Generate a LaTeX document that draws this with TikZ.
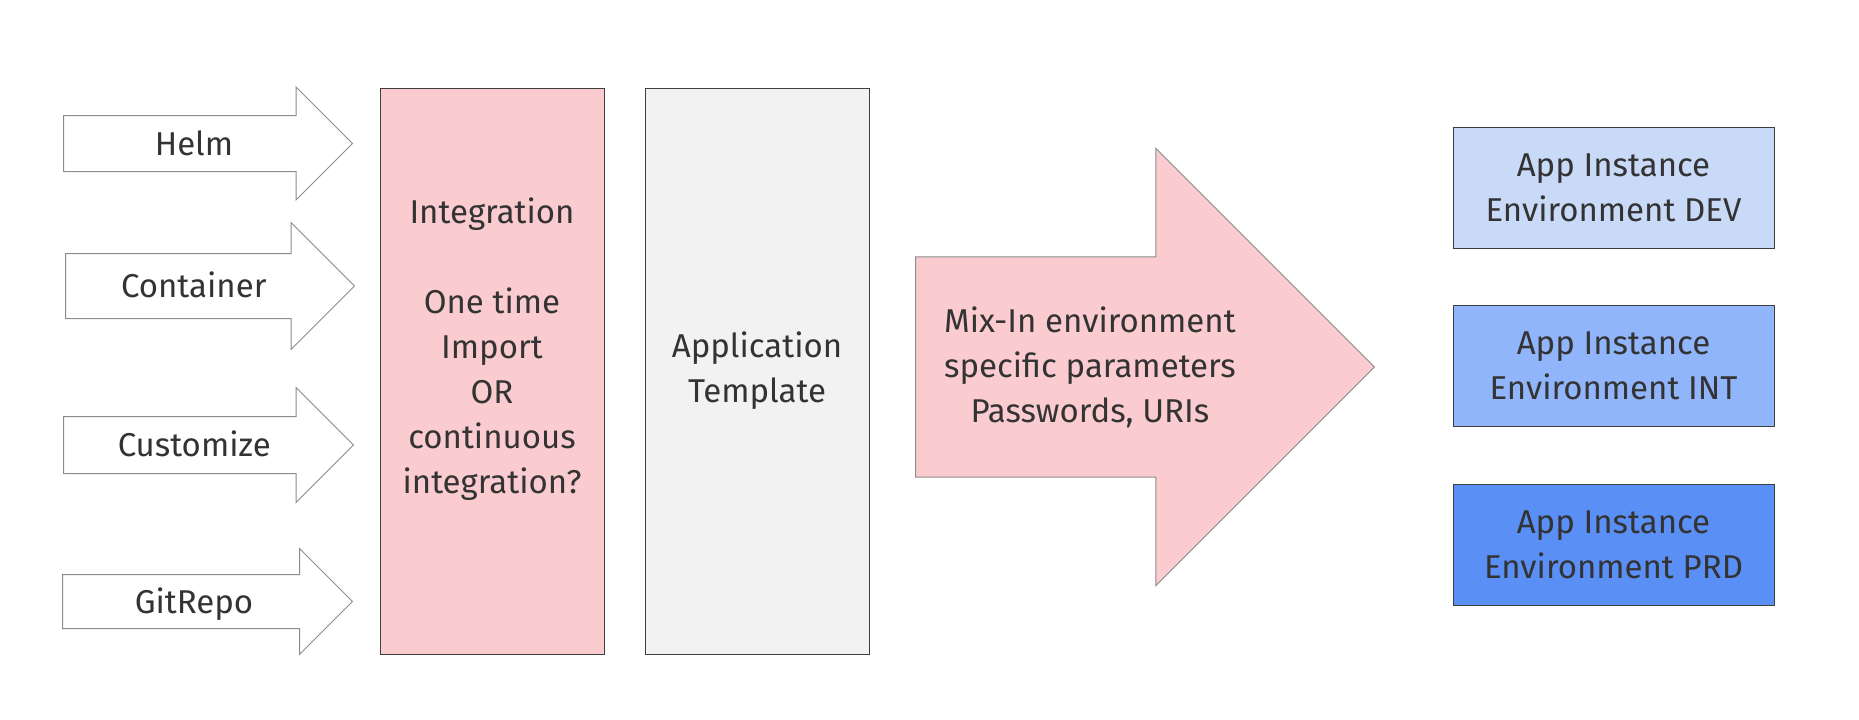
\documentclass[tikz,border=0pt]{standalone}
\usepackage{fontspec}
\setmainfont{Fira Sans}
\usetikzlibrary{shapes.arrows, positioning}
\definecolor{pinkfill}{HTML}{FACCD0}
\definecolor{greyfill}{HTML}{F2F2F2}
\definecolor{devfill}{HTML}{C9DAF8}
\definecolor{intfill}{HTML}{91B5FA}
\definecolor{prdfill}{HTML}{5A8FF6}
\definecolor{textgray}{HTML}{333333}
\definecolor{boxgray}{HTML}{3F3F3F}
\definecolor{arrowgray}{HTML}{8C8C8C}
\tikzset{
  feedarrow/.style = {single arrow, draw=arrowgray, fill=white, line width=0.5pt, text=textgray, anchor=tail, text height=13pt, text depth=1.5pt, minimum width=0pt, font=\fontsize{16.5}{22.5}\selectfont},
  mixarrow/.style = {single arrow, draw=arrowgray, fill=pinkfill, line width=0.5pt, text=textgray, anchor=tail, align=center, minimum width=0pt, font=\fontsize{16.5}{22.5}\selectfont},
  srcbox/.style = {rectangle, draw=boxgray, line width=0.5pt, minimum width=112pt, minimum height=283pt, inner sep=0pt},
  boxtext/.style = {text=textgray, align=center, font=\fontsize{16.5}{22.5}\selectfont},
  envbox/.style = {rectangle, draw=boxgray, line width=0.5pt, text=textgray, align=center, minimum width=160.5pt, minimum height=60.5pt, inner sep=0pt, font=\fontsize{16.5}{22.5}\selectfont}
}
\begin{document}
\begin{tikzpicture}[x=0.5pt, y=-0.5pt, node distance=28.25pt]
\useasboundingbox (0,0) rectangle (1859,719);

% Sources
\node[feedarrow, inner ysep=6.5pt, single arrow head extend=14.25pt, minimum height=144.5pt] (helm) at (63,143.5) {Helm};
\node[feedarrow, inner ysep=8.75pt, single arrow head extend=15.5pt, minimum height=144.5pt] (container) at (65,286) {Container};
\node[feedarrow, inner ysep=6.75pt, single arrow head extend=14.5pt, minimum height=145pt] (customize) at (63,445) {Customize};
\node[feedarrow, inner ysep=6pt, single arrow head extend=13pt, minimum height=145pt] (gitrepo) at (62,601.5) {GitRepo};

% Integration and template
\node[srcbox, fill=pinkfill] (integ) at (492,371) {};
\node[boxtext] (integtext) at ([yshift=11pt]integ.center) {Integration\\[22.5pt]One time\\Import\\OR\\continuous\\integration?};
\node[srcbox, fill=greyfill] (apptpl) at (757,371) {};
\node[boxtext] (apptpltext) at (apptpl.center) {Application\\Template};

% Mix-In
\node[mixarrow, inner ysep=24.5pt, single arrow head extend=54.25pt, minimum height=229.5pt] (mixin) at (915,367) {Mix-In environment\\specific parameters\\Passwords, URIs};

% Environments
\node[envbox, fill=devfill] (dev) at (1613.5,187.5) {App Instance\\Environment DEV};
\node[envbox, fill=intfill, below=of dev] (int) {App Instance\\Environment INT};
\node[envbox, fill=prdfill, below=of int] (prd) {App Instance\\Environment PRD};

\end{tikzpicture}
\end{document}
